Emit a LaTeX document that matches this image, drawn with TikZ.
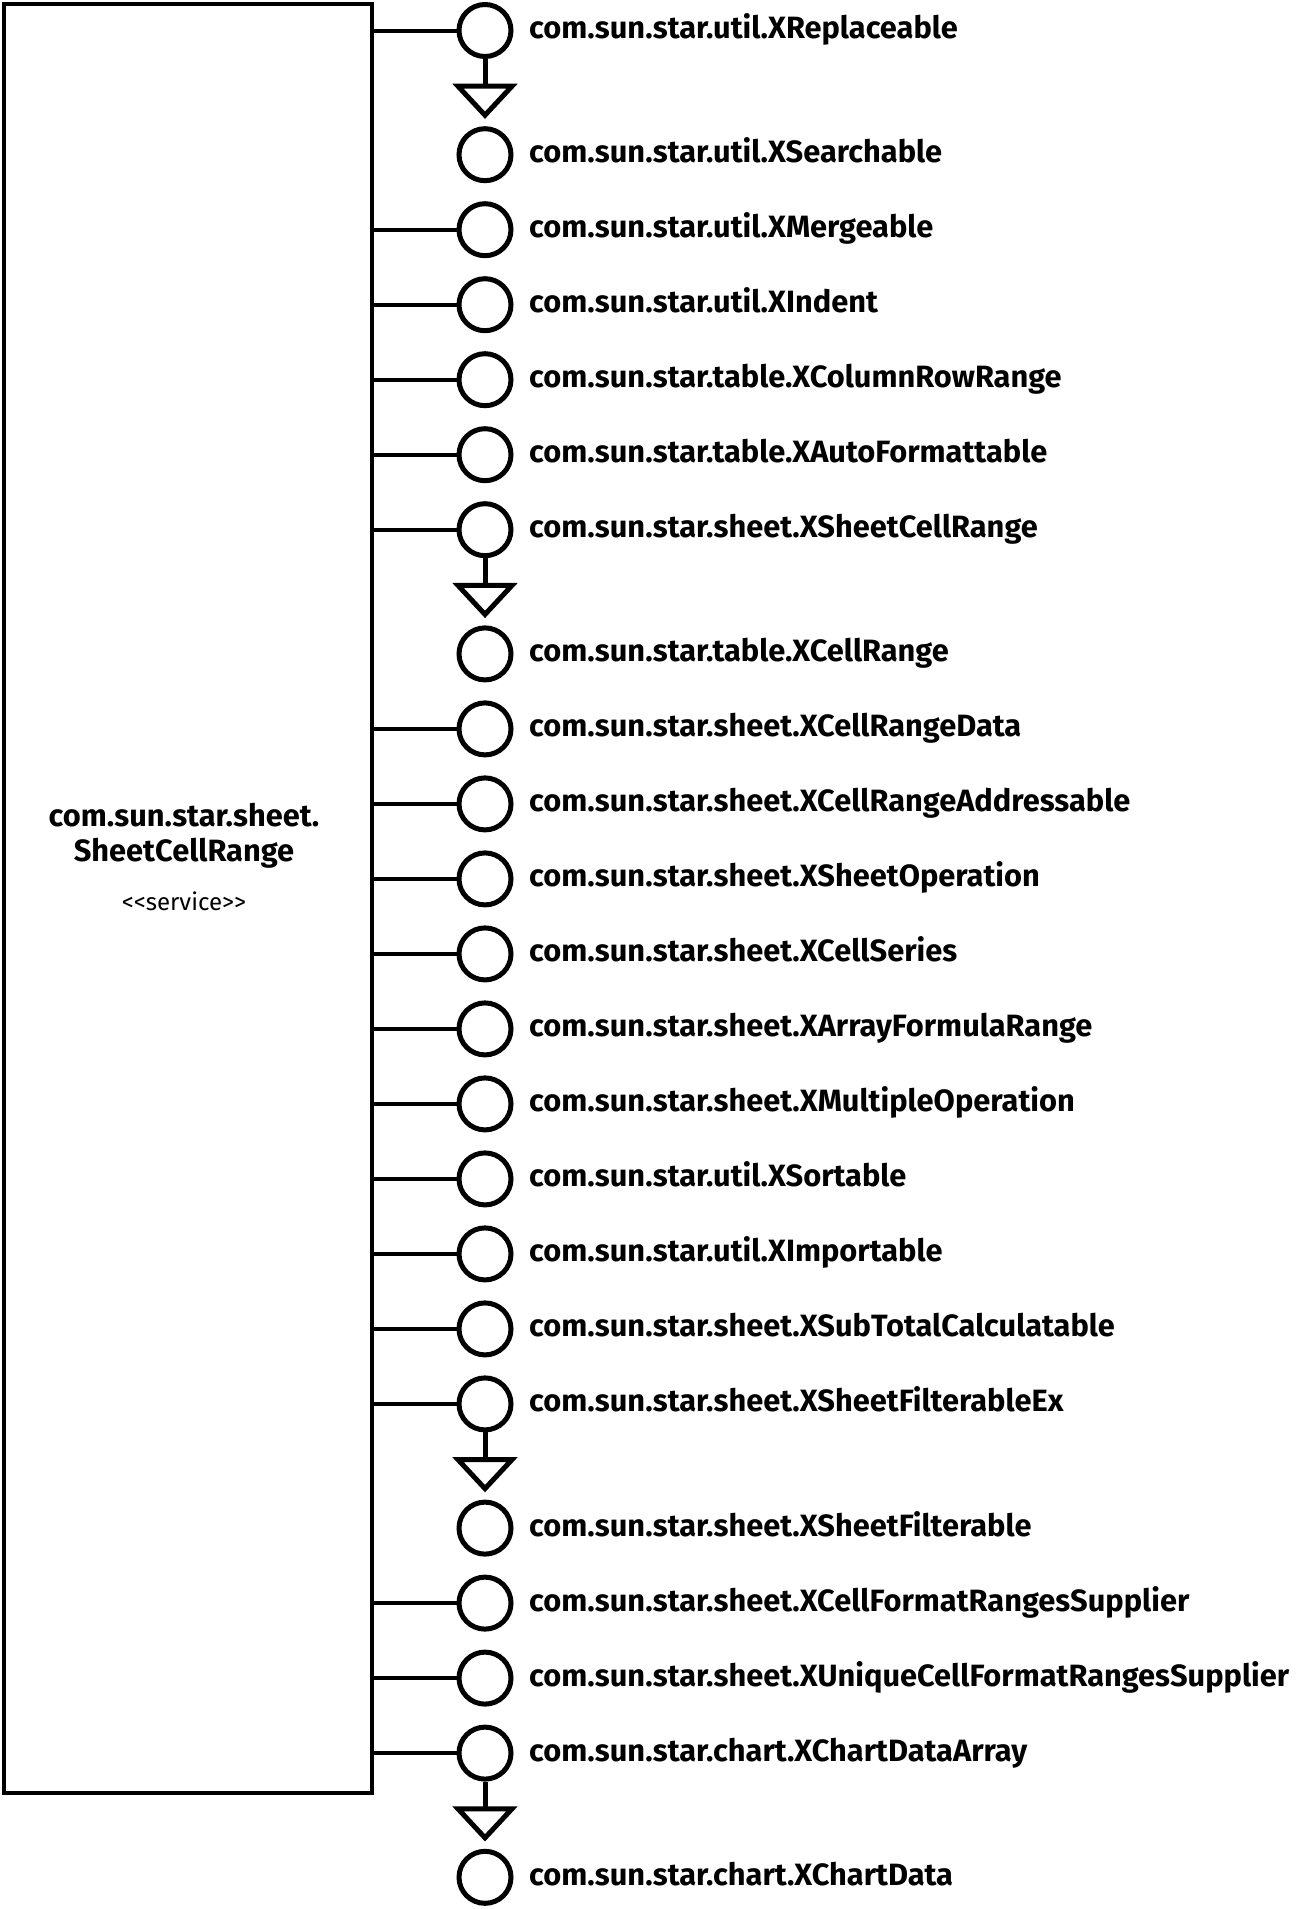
\documentclass[tikz,border=0pt]{standalone}
\usepackage{fontspec}
\setmainfont{Fira Sans}
\begin{document}
\begin{tikzpicture}[x=1pt,y=-1pt,
  iface/.style={draw,line width=5pt,circle,minimum size=52pt,inner sep=0pt},
  lbl/.style={anchor=base west,inner sep=0pt,font=\fontsize{30.8}{36}\selectfont\bfseries},
  ttl/.style={anchor=base,inner sep=0pt,font=\fontsize{30.8}{36}\selectfont\bfseries},
  conn/.style={line width=4pt},
  gen/.style={line width=5pt},
  tri/.style={line width=5pt,line join=miter}]
\useasboundingbox (0,0) rectangle (1308,1909);
\node[draw,line width=4pt,minimum width=368.3pt,minimum height=1789pt,anchor=north west,inner sep=0pt] (box) at (2,2) {};
\node[ttl] (title1) at (184,826.7) {com.sun.star.sheet.};
\node[ttl] (title2) at (184,861.7) {SheetCellRange};
\node[anchor=base,inner sep=0pt,font=\fontsize{24}{28}\selectfont] (stereo) at (184,910) {<{}<service>{}>};
\foreach \n/\y/\t in {
 1/30.5/com.sun.star.util.XReplaceable,
 2/154.7/com.sun.star.util.XSearchable,
 3/229.7/com.sun.star.util.XMergeable,
 4/304.7/com.sun.star.util.XIndent,
 5/379.7/com.sun.star.table.XColumnRowRange,
 6/454.7/com.sun.star.table.XAutoFormattable,
 7/529.7/com.sun.star.sheet.XSheetCellRange,
 8/653.9/com.sun.star.table.XCellRange,
 9/728.9/com.sun.star.sheet.XCellRangeData,
 10/803.9/com.sun.star.sheet.XCellRangeAddressable,
 11/878.9/com.sun.star.sheet.XSheetOperation,
 12/953.9/com.sun.star.sheet.XCellSeries,
 13/1028.9/com.sun.star.sheet.XArrayFormulaRange,
 14/1103.9/com.sun.star.sheet.XMultipleOperation,
 15/1178.9/com.sun.star.util.XSortable,
 16/1253.9/com.sun.star.util.XImportable,
 17/1328.9/com.sun.star.sheet.XSubTotalCalculatable,
 18/1403.9/com.sun.star.sheet.XSheetFilterableEx,
 19/1528.1/com.sun.star.sheet.XSheetFilterable,
 20/1603.1/com.sun.star.sheet.XCellFormatRangesSupplier,
 21/1678.1/com.sun.star.sheet.XUniqueCellFormatRangesSupplier,
 22/1753.1/com.sun.star.chart.XChartDataArray,
 23/1877.3/com.sun.star.chart.XChartData}{
  \node[iface] (i\n) at (485,\y) {};
  \node[lbl] (t\n) at (529,\y+8) {\t};
}
\foreach \n in {1,3,4,5,6,7,9,10,11,12,13,14,15,16,17,18,20,21,22}{
  \draw[conn] (box.east |- i\n) -- (i\n.west);
}
\foreach \a/\b in {1/2,7/8,18/19,22/23}{
  \draw[gen] (i\a.south) -- ([yshift=40pt]i\b.north);
  \draw[tri] ([shift={(-27,-40)}]i\b.north) -- ([shift={(27,-40)}]i\b.north) -- ([shift={(0,-11)}]i\b.north) -- cycle;
}
\end{tikzpicture}
\end{document}
